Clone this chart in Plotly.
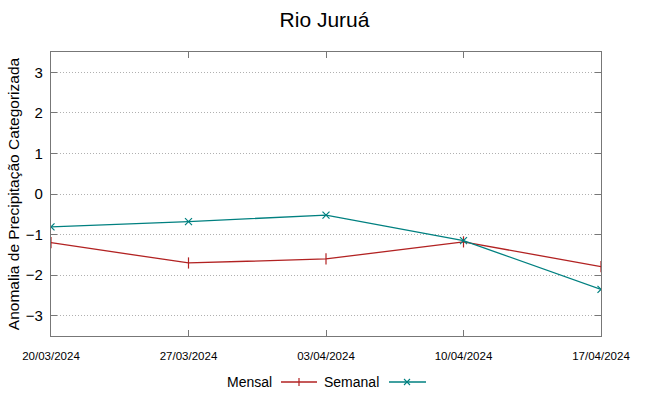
import plotly.graph_objects as go

dates = ["20/03/2024", "27/03/2024", "03/04/2024", "10/04/2024", "17/04/2024"]
mensal = [-1.20, -1.70, -1.60, -1.18, -1.79]
semanal = [-0.81, -0.68, -0.52, -1.15, -2.35]
yticks = [-3, -2, -1, 0, 1, 2, 3]

RED = "#b22222"
TEAL = "#008080"
FONT = "Liberation Sans"
NARROW = "Liberation Sans Narrow, Liberation Sans, Arial"

fig = go.Figure()
fig.add_trace(go.Scatter(x=dates, y=mensal, mode="lines+markers", name="Mensal",
                         line=dict(color=RED, width=1.3),
                         marker=dict(symbol="line-ns", size=8, line=dict(color=RED, width=1.2)),
                         showlegend=False))
fig.add_trace(go.Scatter(x=dates, y=semanal, mode="lines+markers", name="Semanal",
                         line=dict(color=TEAL, width=1.3),
                         marker=dict(symbol="x-thin", size=7, line=dict(color=TEAL, width=1.2)),
                         showlegend=False))

axis_common = dict(showline=True, linecolor="#777777", linewidth=1.3, mirror="ticks",
                   ticks="inside", ticklen=6, tickcolor="#777777", zeroline=False)

fig.update_xaxes(type="category", range=[0, 4], showgrid=False, ticklabelstandoff=9,
                 tickfont=dict(family=NARROW, size=11.5, color="#000"), **axis_common)
fig.update_yaxes(range=[-3.5, 3.5], tickvals=yticks, showgrid=True, gridcolor="#b0b0b0",
                 griddash="1px,2px", gridwidth=1, ticklabelstandoff=4,
                 tickfont=dict(family=FONT, size=15, color="#000"),
                 title=dict(text="Anomalia de Precipitação Categorizada",
                            font=dict(family=FONT, size=15.5, color="#000"), standoff=2),
                 **axis_common)

fig.update_layout(
    width=649, height=396,
    margin=dict(l=51, r=48, t=52, b=60),
    paper_bgcolor="white", plot_bgcolor="white",
    title=dict(text="Rio Juruá", x=0.5, xanchor="center", y=0.95, yanchor="middle",
               font=dict(family=FONT, size=21, color="#000")),
)

# manual legend (text followed by sample, gnuplot style), pixel -> paper coords
pw = 649 - 51 - 48
ph = 396 - 52 - 60
def px(x):
    return (x - 51) / pw
def py(y):
    return (396 - 60 - y) / ph

ly = 382
anns = [
    dict(text="Mensal", xref="paper", yref="paper", x=px(274), y=py(ly), xanchor="right",
         yanchor="middle", showarrow=False, font=dict(family=FONT, size=14, color="#000")),
    dict(text="Semanal", xref="paper", yref="paper", x=px(381), y=py(ly), xanchor="right",
         yanchor="middle", showarrow=False, font=dict(family=FONT, size=14, color="#000")),
]
shp = [
    dict(type="line", xref="paper", yref="paper", x0=px(281), x1=px(317), y0=py(ly), y1=py(ly),
         line=dict(color=RED, width=1.3)),
    dict(type="line", xref="paper", yref="paper", x0=px(299), x1=px(299), y0=py(ly - 4), y1=py(ly + 4),
         line=dict(color=RED, width=1.2)),
    dict(type="line", xref="paper", yref="paper", x0=px(389), x1=px(426), y0=py(ly), y1=py(ly),
         line=dict(color=TEAL, width=1.3)),
    dict(type="line", xref="paper", yref="paper", x0=px(404), x1=px(410), y0=py(ly - 3), y1=py(ly + 3),
         line=dict(color=TEAL, width=1.1)),
    dict(type="line", xref="paper", yref="paper", x0=px(404), x1=px(410), y0=py(ly + 3), y1=py(ly - 3),
         line=dict(color=TEAL, width=1.1)),
]
fig.update_layout(annotations=anns, shapes=shp)

fig.write_html("out.html", config={"displayModeBar": False},
               post_script="document.body.style.margin='0';")
